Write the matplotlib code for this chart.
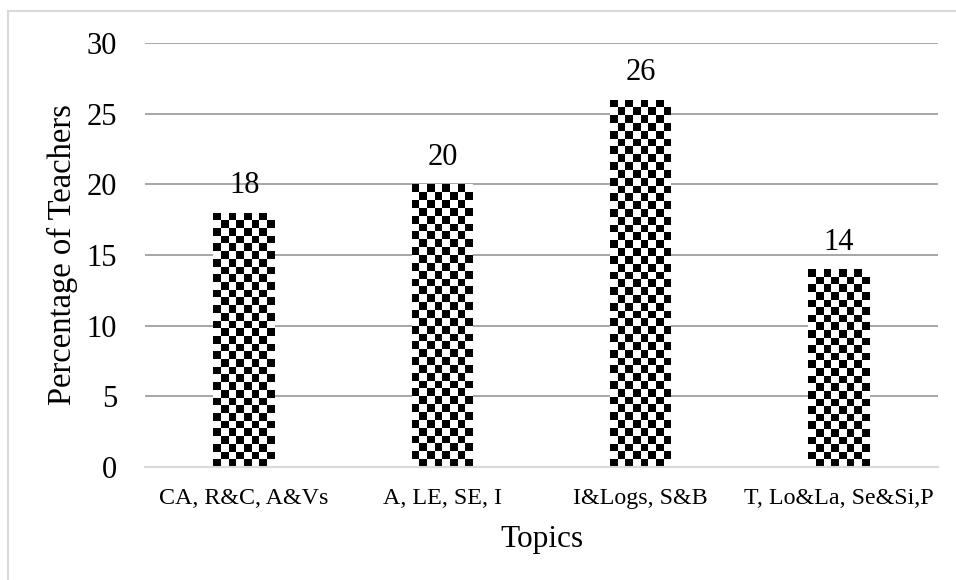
import numpy as np
import matplotlib
matplotlib.use("Agg")
import matplotlib.pyplot as plt
from matplotlib.patches import Rectangle

# Data
topics = ["CA, R&C, A&Vs", "A, LE, SE, I", "I&Logs, S&B", "T, Lo&La, Se&Si,P"]
percentages = [18, 20, 26, 14]
y_ticks = [0, 5, 10, 15, 20, 25, 30]

plt.rcParams["font.family"] = ["Liberation Serif", "DejaVu Serif"]

fig = plt.figure(figsize=(9.56, 5.8), dpi=100)
fig.patch.set_facecolor("white")

# Outer chart frame
fig.patches.append(Rectangle((8 / 956, -0.05), 1.2, 1 - 11 / 580 + 0.05,
                             transform=fig.transFigure, fill=False,
                             edgecolor="#d9d9d9", linewidth=1.5, zorder=0))

ax = fig.add_axes([145 / 956, 1 - 467 / 580, (938 - 145) / 956, (467 - 43) / 580])
x = np.arange(len(topics))
bars = ax.bar(x, percentages, width=0.31, facecolor="white", edgecolor="none", zorder=2)

ax.set_xlim(-0.5, len(topics) - 0.5)
ax.set_ylim(0, 30)
ax.set_yticks(y_ticks)
ax.set_xticks(x)
ax.set_xticklabels(topics, fontsize=17.3)
ax.tick_params(axis="y", length=0, pad=20, labelsize=22)
ax.tick_params(axis="x", length=0, pad=15)

for s in ["top", "right", "left"]:
    ax.spines[s].set_visible(False)
ax.spines["bottom"].set_color("#d9d9d9")
ax.spines["bottom"].set_linewidth(1.5)
ax.spines["bottom"].set_zorder(3)

for yv in y_ticks[1:]:
    ax.axhline(yv, color="#a6a6a6", linewidth=1.4, zorder=1)

ax.set_xlabel("Topics", fontsize=22.5, labelpad=12)
ax.set_ylabel("Percentage of Teachers", fontsize=23.5, labelpad=6)

# Checkerboard fill inside each bar
fig.canvas.draw()
square_px = 7.75
for bar in bars:
    x0, y0 = bar.get_x(), bar.get_y()
    w, h = bar.get_width(), bar.get_height()
    p0 = ax.transData.transform((x0, y0))
    p1 = ax.transData.transform((x0 + w, y0 + h))
    nx = max(1, int(round((p1[0] - p0[0]) / square_px)))
    ny = max(1, int(round((p1[1] - p0[1]) / square_px)))
    xe = np.linspace(x0, x0 + w, nx + 1)
    ye = np.linspace(y0 + h, y0, ny + 1)
    board = (np.add.outer(np.arange(ny), np.arange(nx)) % 2).astype(float)
    mesh = ax.pcolormesh(xe, ye, board, cmap="gray", vmin=0, vmax=1,
                         shading="flat", edgecolors="face", linewidth=0,
                         antialiased=False, zorder=2.5)
    mesh.set_clip_path(bar)

ax.set_xlim(-0.5, len(topics) - 0.5)
ax.set_ylim(0, 30)
ax.bar_label(bars, labels=[str(v) for v in percentages], padding=9, fontsize=22)

fig.savefig("out.png", dpi=100, facecolor="white")
